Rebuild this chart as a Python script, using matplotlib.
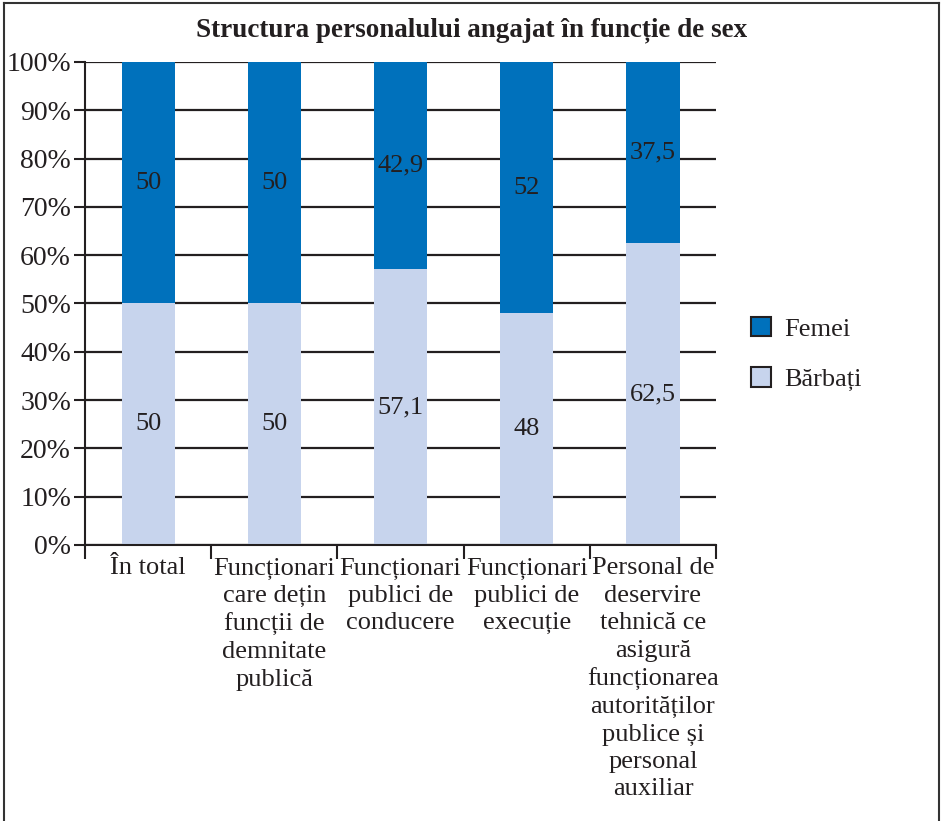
import matplotlib.pyplot as plt
from matplotlib.patches import Patch
from matplotlib.lines import Line2D

# Data
categories = [
    "În total",
    "Funcționari\ncare dețin\nfuncții de\ndemnitate\npublică",
    "Funcționari\npublici de\nconducere",
    "Funcționari\npublici de\nexecuție",
    "Personal de\ndeservire\ntehnică ce\nasigură\nfuncționarea\nautorităților\npublice și\npersonal\nauxiliar",
]
barbati = [50, 50, 57.1, 48, 62.5]
femei = [50, 50, 42.9, 52, 37.5]
barbati_labels = ["50", "50", "57,1", "48", "62,5"]
femei_labels = ["50", "50", "42,9", "52", "37,5"]

dark_blue = "#0071bc"
light_blue = "#c7d4ed"
text_col = "#231f20"

plt.rcParams["font.family"] = "Liberation Serif"

fig = plt.figure(figsize=(9.42, 8.21), dpi=100)
ax = fig.add_axes([0.0902, 0.3362, 0.670, 0.5883])

x = list(range(len(categories)))
w = 0.42
ax.bar(x, barbati, width=w, color=light_blue, zorder=2)
ax.bar(x, femei, width=w, bottom=barbati, color=dark_blue, zorder=2)

# Value labels in the middle of each segment
for i in x:
    ax.text(i, barbati[i] / 2, barbati_labels[i], ha="center", va="center",
            fontsize=19, color=text_col, zorder=3)
    ax.text(i, barbati[i] + femei[i] / 2, femei_labels[i], ha="center",
            va="center", fontsize=19, color=text_col, zorder=3)

ax.set_xlim(-0.5, 4.5)
ax.set_ylim(0, 100)
ax.set_yticks(range(0, 101, 10))
ax.set_yticklabels([f"{v}%" for v in range(0, 101, 10)], fontsize=20,
                   color=text_col)
ax.tick_params(axis="y", length=8, width=1.5, pad=2, color="#231f20")

# category boundaries get tick marks, labels sit on minor ticks
ax.set_xticks([i - 0.5 for i in range(len(categories) + 1)])
ax.set_xticklabels([])
ax.set_xticks(x, minor=True)
ax.set_xticklabels(categories, minor=True, fontsize=19, color=text_col,
                   linespacing=1.32, va="top")
ax.tick_params(axis="x", which="major", length=10, width=1.5, color="#231f20")
ax.tick_params(axis="x", which="minor", length=0, pad=9)

ax.yaxis.grid(True, color="#231f20", linewidth=1.6)
ax.set_axisbelow(True)
for s in ["top", "right"]:
    ax.spines[s].set_visible(False)
for s in ["left", "bottom"]:
    ax.spines[s].set_linewidth(1.5)
    ax.spines[s].set_color("#231f20")

fig.text(0.501, 0.963, "Structura personalului angajat în funcție de sex",
         ha="center", va="center", fontsize=19.5, fontweight="bold",
         color=text_col)

legend_elements = [
    Patch(facecolor=dark_blue, edgecolor="#231f20", linewidth=1.5, label="Femei"),
    Patch(facecolor=light_blue, edgecolor="#231f20", linewidth=1.5, label="Bărbați"),
]
fig.legend(handles=legend_elements, loc="upper left",
           bbox_to_anchor=(0.783, 0.63), frameon=False, fontsize=19,
           handlelength=0.75, handleheight=0.75, handletextpad=0.5,
           labelspacing=1.0, borderpad=0, labelcolor=text_col)

# outer frame (left, top, right)
frame_col = "#333333"
fig.add_artist(Line2D([0.004, 0.004], [0, 0.996], color=frame_col, lw=1.5,
                      transform=fig.transFigure))
fig.add_artist(Line2D([0.004, 0.997], [0.996, 0.996], color=frame_col, lw=1.5,
                      transform=fig.transFigure))
fig.add_artist(Line2D([0.997, 0.997], [0, 0.996], color=frame_col, lw=1.5,
                      transform=fig.transFigure))

plt.savefig("out.png", dpi=100)
